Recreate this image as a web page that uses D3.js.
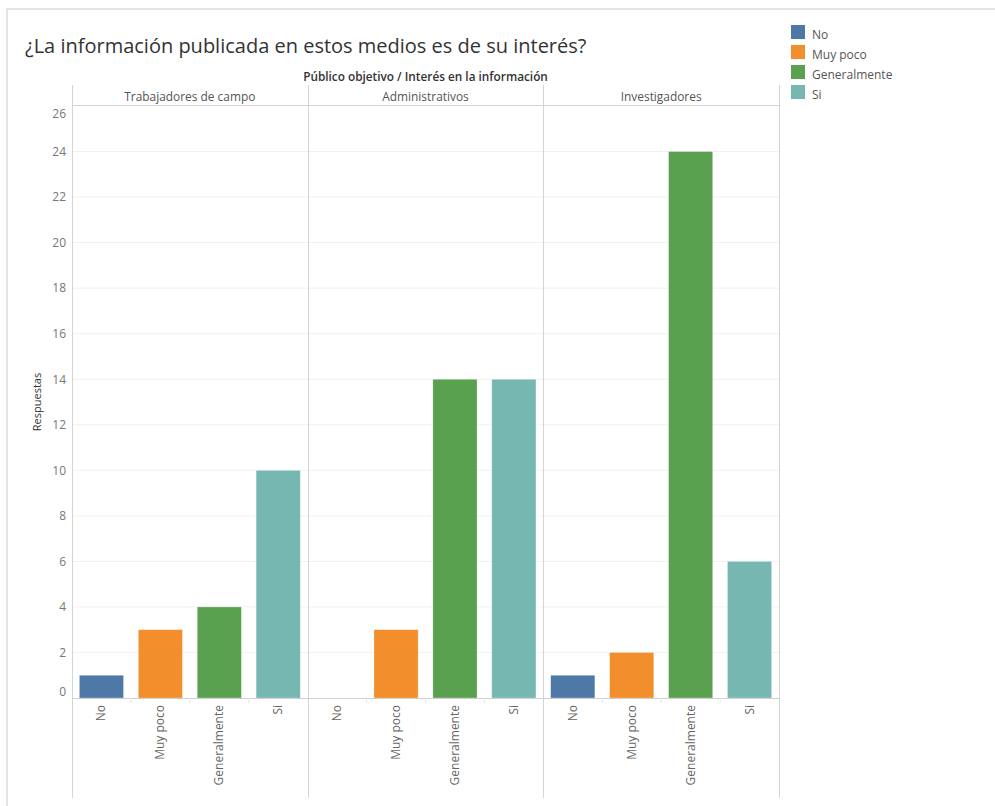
<!DOCTYPE html>
<html>
<head>
<meta charset="utf-8">
<script src="https://cdn.jsdelivr.net/npm/d3@7"></script>
<style>
  html, body { margin: 0; padding: 0; background: #fff; }
  svg { display: block; font-family: "Open Sans", "Lato", sans-serif; }
</style>
</head>
<body>
<svg id="chart" width="995" height="806"></svg>
<script>
// Survey answers per audience group
const groups = ["Trabajadores de campo", "Administrativos", "Investigadores"];
const answers = ["No", "Muy poco", "Generalmente", "Si"];
const trabajadores = [1, 3, 4, 10];
const administrativos = [0, 3, 14, 14];
const investigadores = [1, 2, 24, 6];
const yTicks = [0, 2, 4, 6, 8, 10, 12, 14, 16, 18, 20, 22, 24, 26];
const colors = ["#4e79a7", "#f28e2b", "#59a14f", "#76b7b2"];

const title = "¿La información publicada en estos medios es de su interés?";
const headerTitle = "Público objetivo / Interés en la información";
const yTitle = "Respuestas";

const seriesByGroup = [trabajadores, administrativos, investigadores];
const rows = [];
groups.forEach((g, gi) => answers.forEach((a, ai) => rows.push({ group: g, answer: a, value: seriesByGroup[gi][ai] })));

const svg = d3.select("#chart");

// outer frame
svg.append("line").attr("x1", 6).attr("x2", 995).attr("y1", 9).attr("y2", 9)
  .attr("stroke", "#e4e4e4").attr("stroke-width", 2);
svg.append("line").attr("x1", 7).attr("x2", 7).attr("y1", 8).attr("y2", 806)
  .attr("stroke", "#e4e4e4").attr("stroke-width", 2);

svg.append("text").attr("x", 25).attr("y", 53)
  .attr("font-size", 20).attr("fill", "#333").text(title);

const left = 72, right = 779, headerTop = 85, plotTop = 106, plotBottom = 698, frameBottom = 798;

const x0 = d3.scaleBand().domain(groups).range([left, right]);
const x1 = d3.scaleBand().domain(answers).range([0, x0.bandwidth()])
  .paddingInner(0.25).paddingOuter(0.125);
const y = d3.scaleLinear().domain([0, 26]).range([plotBottom, plotTop]);
const color = d3.scaleOrdinal().domain(answers).range(colors);

// gridlines
svg.append("g").selectAll("line").data(yTicks.filter(t => t > 0 && t < 26)).join("line")
  .attr("x1", left).attr("x2", right)
  .attr("y1", d => y(d)).attr("y2", d => y(d))
  .attr("stroke", "#f0f0f0").attr("stroke-width", 1);

// header title and group headers
svg.append("text").attr("x", (x0("Administrativos") + x0.bandwidth() / 2)).attr("y", 81)
  .attr("text-anchor", "middle").attr("font-size", 11.8).attr("font-weight", 600)
  .attr("fill", "#333").text(headerTitle);

svg.append("g").selectAll("text").data(groups).join("text")
  .attr("x", d => x0(d) + x0.bandwidth() / 2).attr("y", 101)
  .attr("text-anchor", "middle").attr("font-size", 11.9).attr("fill", "#555")
  .text(d => d);

svg.append("line").attr("x1", left).attr("x2", right).attr("y1", 105.5).attr("y2", 105.5)
  .attr("stroke", "#d4d4d4");

// panel dividers
const dividers = groups.map(g => x0(g)).concat([right]);
svg.append("g").selectAll("line").data(dividers).join("line")
  .attr("x1", d => Math.round(d) + 0.5).attr("x2", d => Math.round(d) + 0.5)
  .attr("y1", headerTop).attr("y2", frameBottom)
  .attr("stroke", "#d4d4d4");

// bars
svg.append("g").selectAll("rect").data(rows).join("rect")
  .attr("x", d => x0(d.group) + x1(d.answer))
  .attr("width", x1.bandwidth())
  .attr("y", d => y(d.value))
  .attr("height", d => y(0) - y(d.value))
  .attr("fill", d => color(d.answer))
  .attr("stroke", "#fff").attr("stroke-opacity", 0.5).attr("stroke-width", 0.6);

// zero line
svg.append("line").attr("x1", left).attr("x2", right).attr("y1", plotBottom + 0.5).attr("y2", plotBottom + 0.5)
  .attr("stroke", "#cfcfcf");

// category separators under the zero line
const seps = [];
groups.forEach(g => answers.slice(1).forEach(a => seps.push(x0(g) + x1(a) - x1.step() * x1.paddingInner() / 2)));
svg.append("g").selectAll("line").data(seps).join("line")
  .attr("x1", d => d).attr("x2", d => d)
  .attr("y1", plotBottom).attr("y2", plotBottom + 5)
  .attr("stroke", "#e6e6e6");

// y axis
const yAxis = svg.append("g").attr("transform", `translate(${left},0)`)
  .call(d3.axisLeft(y).tickValues(yTicks).tickSize(0).tickPadding(6));
yAxis.select(".domain").remove();
yAxis.selectAll("text").attr("font-family", "'Open Sans', Lato, sans-serif")
  .attr("font-size", 12).attr("fill", "#777")
  .attr("dy", d => d === 0 ? "-0.25em" : d === 26 ? "0.95em" : "0.32em");

svg.append("text")
  .attr("transform", `translate(41,${(plotTop + plotBottom) / 2}) rotate(-90)`)
  .attr("text-anchor", "middle").attr("font-size", 11).attr("fill", "#333")
  .text(yTitle);

// rotated category labels
svg.append("g").selectAll("text").data(rows).join("text")
  .attr("transform", d => `translate(${x0(d.group) + x1(d.answer) + x1.bandwidth() / 2 + 4},${plotBottom + 7}) rotate(-90)`)
  .attr("text-anchor", "end").attr("font-size", 12).attr("fill", "#666")
  .text(d => d.answer);

// legend
const legend = svg.append("g").attr("transform", "translate(791,25)");
const item = legend.selectAll("g").data(answers).join("g")
  .attr("transform", (d, i) => `translate(0,${i * 20})`);
item.append("rect").attr("width", 14).attr("height", 14).attr("fill", d => color(d));
item.append("text").attr("x", 21).attr("y", 13.5)
  .attr("font-size", 12).attr("fill", "#555").text(d => d);
</script>
</body>
</html>
